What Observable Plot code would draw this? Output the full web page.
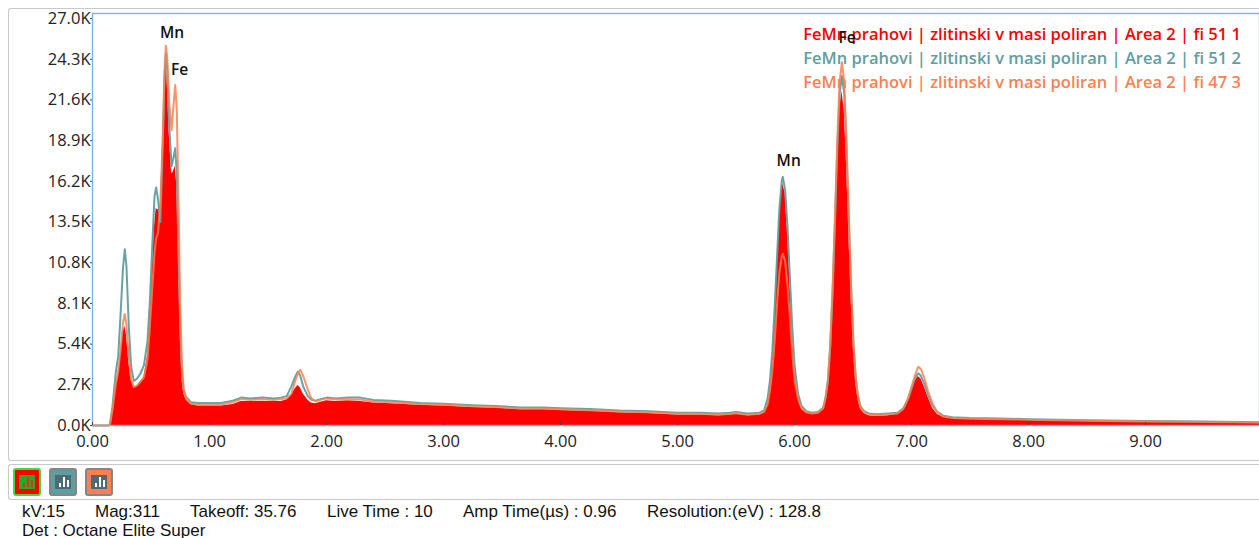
<!DOCTYPE html>
<html><head><meta charset="utf-8">
<script src="https://cdn.jsdelivr.net/npm/d3@7"></script>
<script src="https://cdn.jsdelivr.net/npm/@observablehq/plot@0.6"></script>
<style>
html,body{margin:0;padding:0;background:#fff;width:1259px;height:538px;overflow:hidden}
#wrap{position:relative;width:1259px;height:538px;overflow:hidden}
#chart{position:absolute;left:0;top:0}
.panel{position:absolute;border:1px solid #c9c9c9;border-right:none;box-sizing:border-box;border-radius:3px 0 0 3px}
.btn{position:absolute;top:468px;width:28px;height:28px;box-sizing:border-box;border:2px solid #858585;border-radius:3px}
.btn i{position:absolute;left:4px;top:5px;width:16px;height:14px;background:#4d6b72;display:block}
.btn b{position:absolute;bottom:2px;width:2px;background:#fff;display:block}
.meta{position:absolute;font:17px "Liberation Sans",Arial,sans-serif;color:#111;white-space:pre}
</style></head><body>
<div id="wrap">
<div class="panel" style="left:8px;top:8px;width:1251px;height:453px"></div>
<div class="panel" style="left:8px;top:464px;width:1251px;height:36px"></div>
<div id="chart"></div>
<div class="btn" style="left:13px;background:#ff0000;border-color:#3ddc3d"><i style="background:#27a827"><b style="left:4px;height:4px;background:#e03020"></b><b style="left:8px;height:10px;background:#e03020"></b><b style="left:12px;height:7px;background:#e03020"></b></i></div>
<div class="btn" style="left:49px;background:#5f9ea0"><i><b style="left:4px;height:4px"></b><b style="left:8px;height:10px"></b><b style="left:12px;height:7px"></b></i></div>
<div class="btn" style="left:85px;background:#ff7f50"><i><b style="left:4px;height:4px"></b><b style="left:8px;height:10px"></b><b style="left:12px;height:7px"></b></i></div>
<span class="meta" style="left:22px;top:502px">kV:15</span>
<span class="meta" style="left:95px;top:502px">Mag:311</span>
<span class="meta" style="left:190px;top:502px">Takeoff: 35.76</span>
<span class="meta" style="left:327px;top:502px">Live Time : 10</span>
<span class="meta" style="left:463px;top:502px">Amp Time(µs) : 0.96</span>
<span class="meta" style="left:647px;top:502px">Resolution:(eV) : 128.8</span>
<span class="meta" style="left:22px;top:521px">Det : Octane Elite Super</span>
</div>
<script>
const energy = [
0,0.14,0.15,0.17,0.20,0.22,0.24,0.26,0.276,0.29,
0.31,0.33,0.353,0.38,0.41,0.44,0.47,0.49,0.51,0.53,
0.544,0.56,0.58,0.60,0.615,0.627,0.64,0.655,0.676,0.69,
0.707,0.72,0.735,0.75,0.765,0.78,0.80,0.84,0.90,1.00,
1.10,1.20,1.27,1.35,1.45,1.55,1.61,1.66,1.70,1.73,
1.755,1.776,1.80,1.84,1.87,1.906,1.95,2.00,2.08,2.18,
2.29,2.40,2.55,2.80,3.00,3.25,3.45,3.66,3.85,4.00,
4.25,4.50,4.75,5.00,5.20,5.35,5.45,5.50,5.60,5.70,
5.74,5.77,5.79,5.81,5.83,5.85,5.87,5.89,5.90,5.92,
5.94,5.96,5.98,6.00,6.03,6.06,6.10,6.15,6.20,6.245,
6.265,6.285,6.305,6.325,6.345,6.365,6.385,6.405,6.425,6.445,
6.465,6.485,6.505,6.525,6.545,6.565,6.595,6.635,6.70,6.80,
6.88,6.93,6.97,7.00,7.03,7.057,7.08,7.11,7.14,7.18,
7.22,7.27,7.35,7.50,7.75,8.00,8.50,9.00,9.50,9.974];
const redCounts = [
0,0,0.1,0.9,2.6,3.3,4.6,6.1,6.6,6.0,
4.2,3.0,2.5,2.6,2.9,3.2,4.6,7.0,10.2,13.2,
14.4,14.3,14.6,19,23,24.7,22.5,19.5,16.7,16.8,
17.2,16.0,11,6,3.0,2.1,1.7,1.4,1.3,1.3,
1.3,1.4,1.6,1.6,1.6,1.6,1.6,1.7,2.0,2.4,
2.65,2.5,2.1,1.7,1.5,1.45,1.55,1.65,1.6,1.65,
1.6,1.5,1.45,1.35,1.3,1.2,1.15,1.05,1.05,1.0,
.95,.85,.8,.7,.7,.65,.7,.75,.65,.7,
.85,1.3,2.4,4.3,7.1,10.7,13.9,15.6,16.05,15.4,
12.8,9.6,6.3,3.7,1.9,1.1,.85,.75,.8,1.1,
1.65,2.7,4.9,8.3,12.6,17.3,20.9,22.2,20.9,17.3,
12.6,8.3,4.9,2.7,1.65,1.1,.8,.65,.6,.65,
.75,1.0,1.6,2.25,2.95,3.25,3.1,2.55,1.9,1.15,
.75,.55,.45,.4,.38,.33,.27,.22,.2,.17];
const tealCounts = [
0,0,0.1,1.2,3.6,4.6,7.4,10.4,11.7,10.6,
6.6,3.9,2.95,3.1,3.45,4.0,5.6,8.2,11.8,15.2,
15.8,15.0,13.5,18.5,23,24.7,23.5,20,17.2,17.7,
18.4,16.8,11.5,6.5,3.3,2.3,1.9,1.55,1.5,1.5,
1.5,1.65,1.85,1.8,1.85,1.8,1.85,1.95,2.6,3.2,
3.57,3.3,2.6,1.95,1.7,1.65,1.75,1.85,1.8,1.85,
1.85,1.7,1.65,1.5,1.45,1.35,1.3,1.2,1.2,1.15,
1.1,1.0,.95,.85,.85,.8,.85,.9,.8,.85,
1.0,1.8,3,4.9,7.8,11.1,14.3,16.2,16.5,15.6,
13.2,9.9,6.6,4,2.1,1.3,.95,.85,.9,1.2,
1.85,2.95,5.2,8.8,13.3,18.2,22,23.2,22,18.2,
13.3,8.8,5.2,2.95,1.85,1.25,.95,.8,.75,.8,
.85,1.15,1.75,2.45,3.15,3.47,3.3,2.75,2.05,1.3,
.9,.65,.55,.5,.47,.42,.35,.3,.26,.22];
const orangeCounts = [
0,0,0.1,1.0,2.8,3.6,5.0,6.8,7.4,6.7,
4.6,3.1,2.55,2.65,2.9,3.2,4.4,6.5,9.0,11.5,
12.4,12.8,14.8,19,23.5,25.2,24.3,21.5,19.6,21,
22.6,21,15,8,4,2.4,1.8,1.45,1.4,1.4,
1.4,1.55,1.75,1.7,1.75,1.7,1.75,1.8,2.1,2.9,
3.45,3.7,3.3,2.4,1.8,1.6,1.7,1.8,1.72,1.75,
1.72,1.6,1.55,1.42,1.38,1.28,1.22,1.12,1.12,1.08,
1.02,.93,.88,.78,.78,.72,.78,.82,.72,.78,
.9,1.4,2.3,3.6,5.6,8,10.1,11.2,11.4,10.9,
9.3,7.2,4.9,3,1.75,1.15,.88,.8,.85,1.15,
1.8,3,5.3,9,13.7,18.8,22.8,24.1,22.8,18.8,
13.7,9,5.3,3,1.8,1.2,.9,.75,.7,.75,
.8,1.1,1.8,2.55,3.35,3.9,3.75,3.15,2.3,1.45,
.9,.6,.5,.45,.42,.38,.32,.27,.23,.2];
const legendLabels = ["FeMn prahovi | zlitinski v masi poliran | Area 2 | fi 51 1","FeMn prahovi | zlitinski v masi poliran | Area 2 | fi 51 2","FeMn prahovi | zlitinski v masi poliran | Area 2 | fi 47 3"];
const legendColors = ["#ff0000","#5f9ea0","#ff7f50"];
const legendY = [25.95,24.35,22.75];
const legendX = 6.075;
const peakNames = ["Mn","Fe","Mn","Fe"];
const peakX = [0.68,0.745,5.95,6.45];
const peakY = [26.05,23.6,17.55,25.7];
const xTicks = [0,1,2,3,4,5,6,7,8,9];
const yTicks = [0,2.7,5.4,8.1,10.8,13.5,16.2,18.9,21.6,24.3,27];

const spectrum = energy.map((e,i)=>({e,red:redCounts[i],teal:tealCounts[i],orange:orangeCounts[i]}));
const legend = legendLabels.map((t,i)=>({t,c:legendColors[i],y:legendY[i]}));
const peaks = peakNames.map((t,i)=>({t,x:peakX[i],y:peakY[i]}));
const uiFont = "'Open Sans','Noto Sans',sans-serif";

const plot = Plot.plot({
  width:1259,height:461,
  marginLeft:92,marginRight:0,marginTop:13,marginBottom:36,
  style:{fontFamily:uiFont,background:"transparent",overflow:"visible"},
  x:{domain:[0,9.974]},
  y:{domain:[0,27.34]},
  marks:[
    Plot.areaY(spectrum,{x:"e",y:"red",fill:"#ff0000"}),
    Plot.text(legend,{x:()=>legendX,y:"y",text:"t",fill:"c",textAnchor:"start",fontSize:16.5,fontWeight:600}),
    Plot.line(spectrum,{x:"e",y:"teal",stroke:"#5f9ea0",strokeWidth:2,opacity:.95}),
    Plot.line(spectrum,{x:"e",y:"orange",stroke:"#ff7f50",strokeWidth:2,opacity:.85}),
    Plot.text(peaks,{x:"x",y:"y",text:"t",fill:"#111",fontSize:15.5,fontWeight:600}),
    Plot.frame({stroke:"#7fb2dc",strokeWidth:1.4}),
    Plot.axisX({ticks:xTicks,tickFormat:d3.format(".2f"),label:null,tickSize:-3,tickPadding:13,fontSize:16.5,color:"#222",stroke:"#444"}),
    Plot.axisY({ticks:yTicks,tickFormat:d=>d.toFixed(1)+"K",label:null,tickSize:2,tickPadding:0,fontSize:16.5,color:"#222",stroke:"#444"})
  ]
});
document.getElementById("chart").appendChild(plot);
</script>
</body></html>
